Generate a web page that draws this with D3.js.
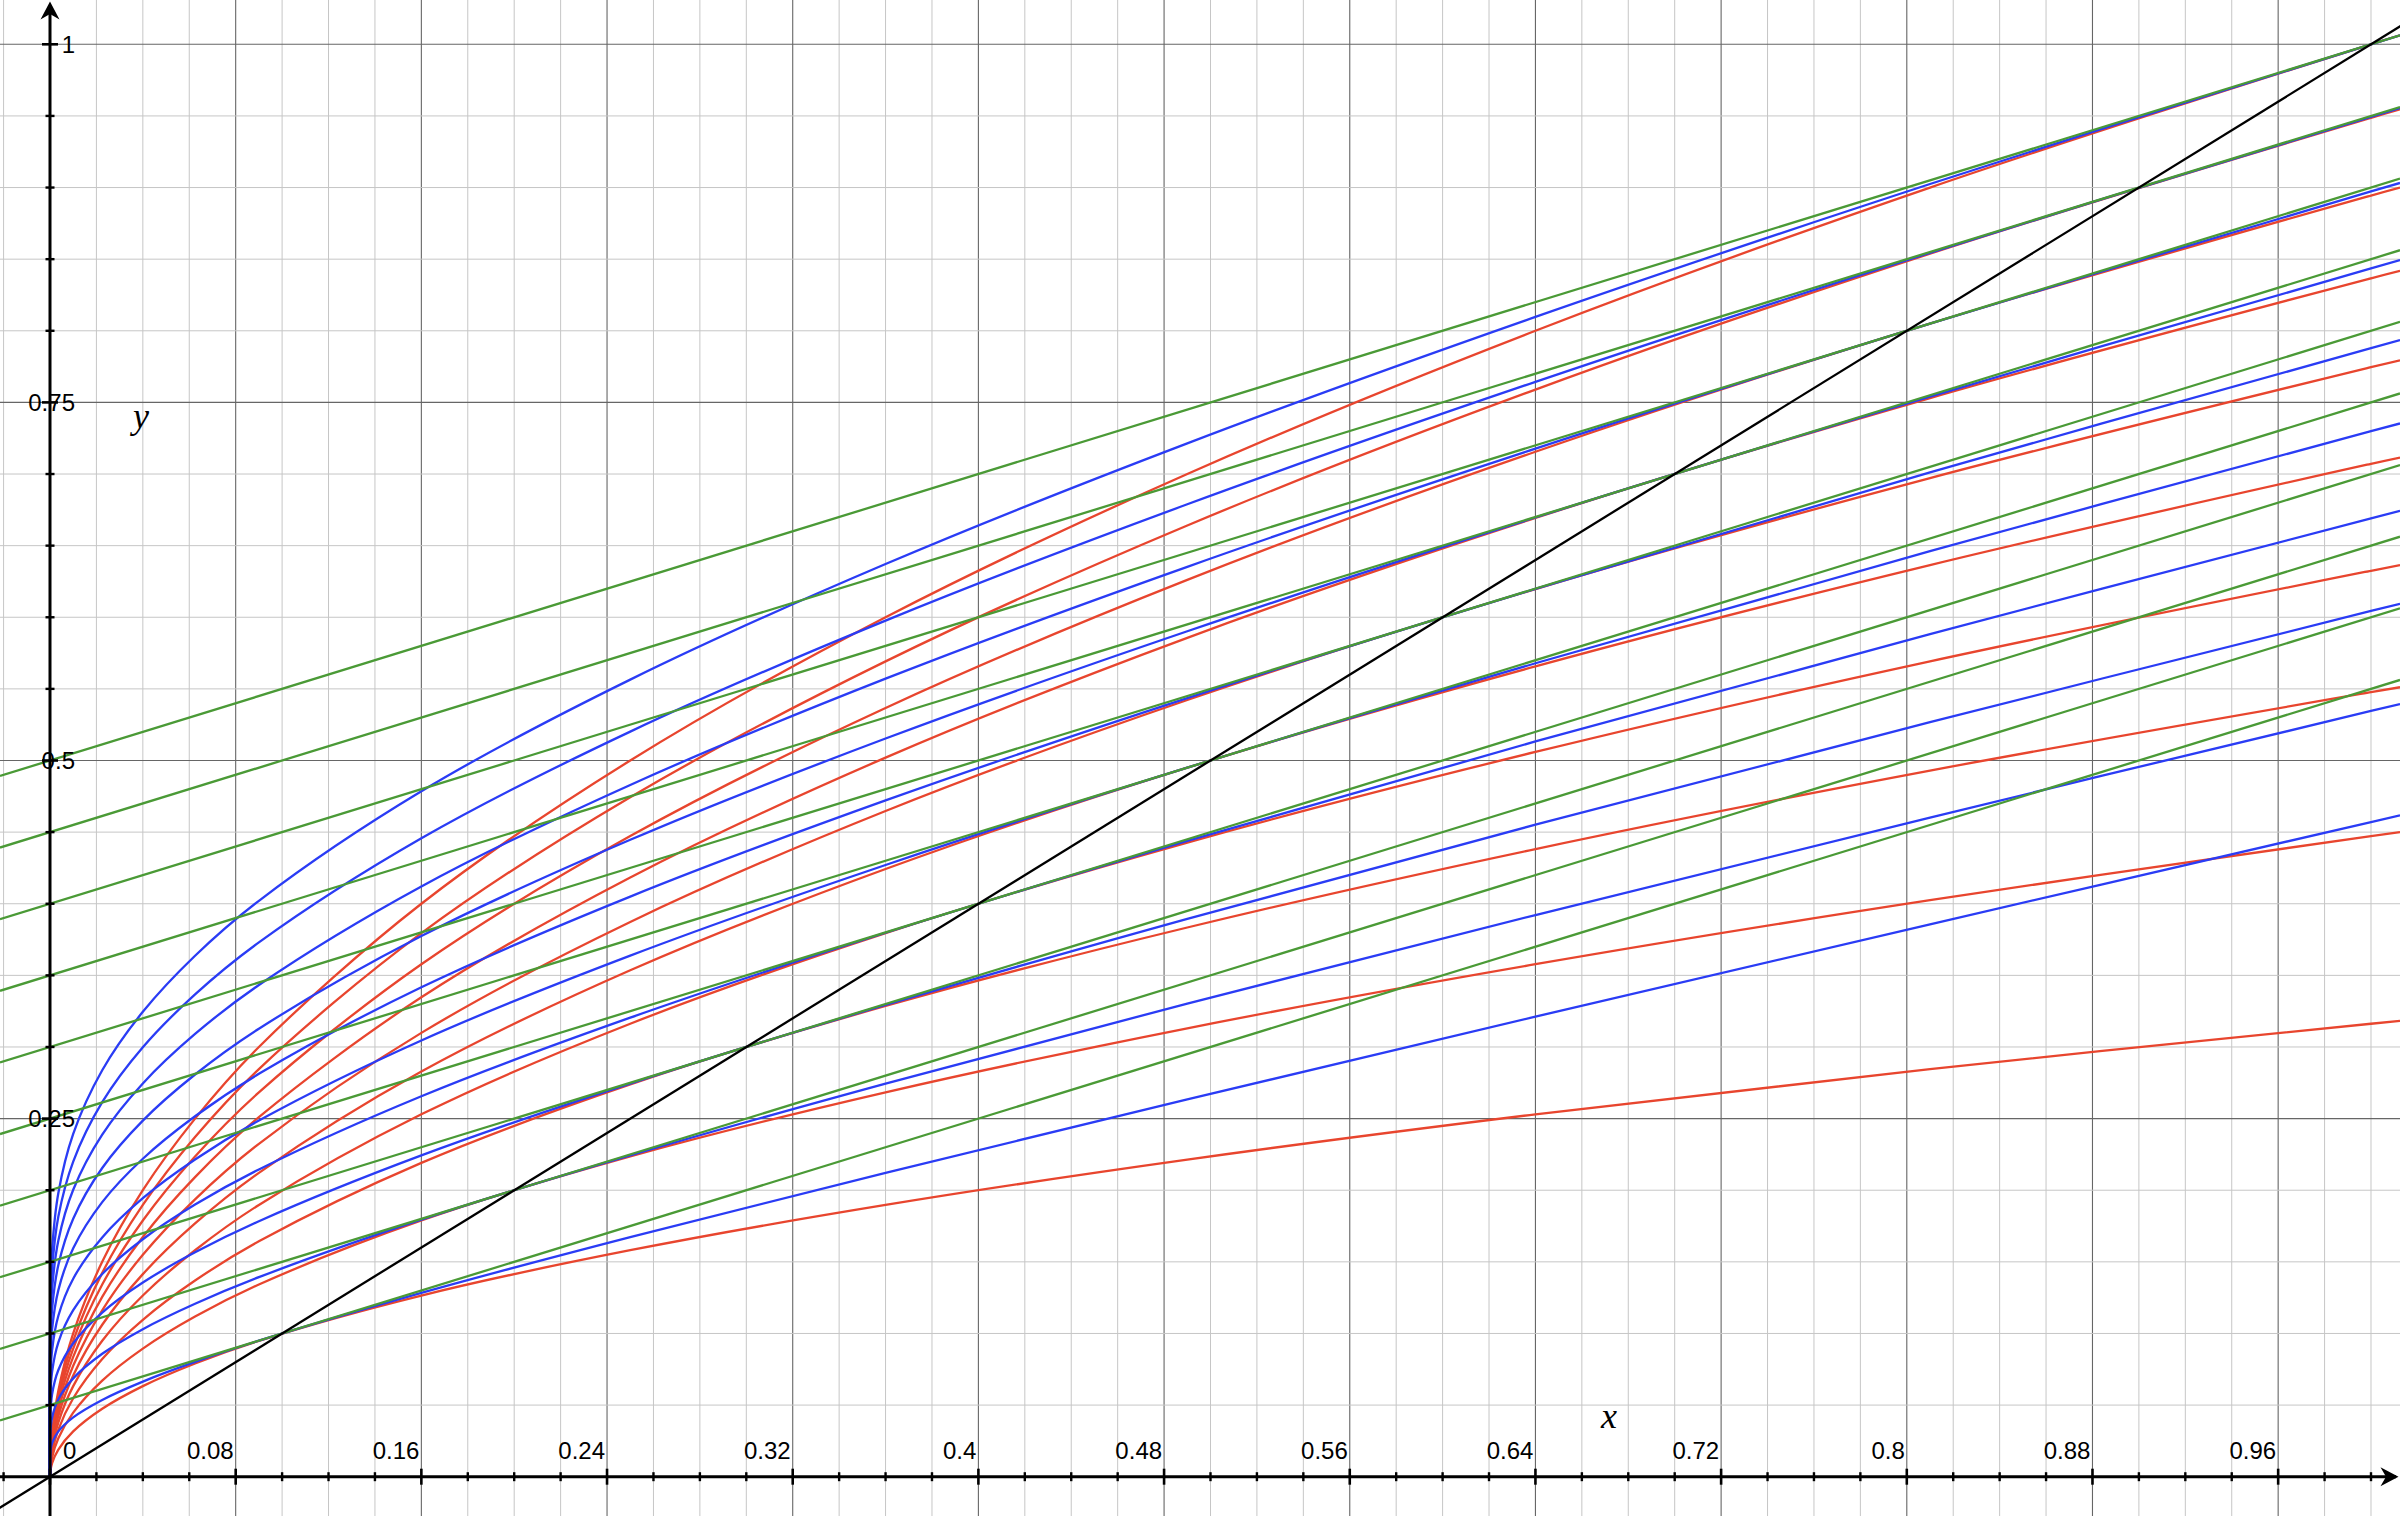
<!DOCTYPE html>
<html>
<head>
<meta charset="utf-8">
<script src="https://cdn.jsdelivr.net/npm/d3@7"></script>
<style>
  html, body { margin: 0; padding: 0; background: #ffffff; }
  svg { display: block; }
</style>
</head>
<body>
<svg id="chart" width="2400" height="1516"></svg>
<script>
// ---------------- data ----------------
const xSamples = [0, 0.0001, 0.0009, 0.0036, 0.01, 0.0225, 0.04, 0.0625, 0.09, 0.16, 0.25, 0.36, 0.49, 0.64, 0.81, 1.0, 1.0125];

const redCurves = [
  [0, 0.00316, 0.00949, 0.01897, 0.03162, 0.04743, 0.06325, 0.07906, 0.09487, 0.12649, 0.15811, 0.18974, 0.22136, 0.25298, 0.2846, 0.31623, 0.3182],
  [0, 0.00447, 0.01342, 0.02683, 0.04472, 0.06708, 0.08944, 0.1118, 0.13416, 0.17889, 0.22361, 0.26833, 0.31305, 0.35777, 0.40249, 0.44721, 0.45],
  [0, 0.00548, 0.01643, 0.03286, 0.05477, 0.08216, 0.10954, 0.13693, 0.16432, 0.21909, 0.27386, 0.32863, 0.38341, 0.43818, 0.49295, 0.54772, 0.55114],
  [0, 0.00632, 0.01897, 0.03795, 0.06325, 0.09487, 0.12649, 0.15811, 0.18974, 0.25298, 0.31623, 0.37947, 0.44272, 0.50596, 0.56921, 0.63246, 0.6364],
  [0, 0.00707, 0.02121, 0.04243, 0.07071, 0.10607, 0.14142, 0.17678, 0.21213, 0.28284, 0.35355, 0.42426, 0.49497, 0.56569, 0.6364, 0.70711, 0.71151],
  [0, 0.00775, 0.02324, 0.04648, 0.07746, 0.11619, 0.15492, 0.19365, 0.23238, 0.30984, 0.3873, 0.46476, 0.54222, 0.61968, 0.69714, 0.7746, 0.77942],
  [0, 0.00837, 0.0251, 0.0502, 0.08367, 0.1255, 0.16733, 0.20917, 0.251, 0.33466, 0.41833, 0.502, 0.58566, 0.66933, 0.75299, 0.83666, 0.84187],
  [0, 0.00894, 0.02683, 0.05367, 0.08944, 0.13416, 0.17889, 0.22361, 0.26833, 0.35777, 0.44721, 0.53666, 0.6261, 0.71554, 0.80498, 0.89443, 0.9],
  [0, 0.00949, 0.02846, 0.05692, 0.09487, 0.1423, 0.18974, 0.23717, 0.2846, 0.37947, 0.47434, 0.56921, 0.66408, 0.75895, 0.85381, 0.94868, 0.95459],
  [0, 0.01, 0.03, 0.06, 0.1, 0.15, 0.2, 0.25, 0.3, 0.4, 0.5, 0.6, 0.7, 0.8, 0.9, 1.0, 1.00623]
];

const blueCurves = [
  [0, 0.01608, 0.02345, 0.03164, 0.04144, 0.05362, 0.06641, 0.08012, 0.09493, 0.12832, 0.16725, 0.21218, 0.26341, 0.32118, 0.38565, 0.45701, 0.46167],
  [0, 0.02899, 0.04122, 0.05405, 0.06863, 0.08581, 0.10301, 0.12074, 0.13928, 0.17943, 0.22432, 0.27447, 0.33031, 0.39213, 0.46016, 0.53459, 0.53945],
  [0, 0.04103, 0.0576, 0.07449, 0.09318, 0.11461, 0.13554, 0.15667, 0.17837, 0.2243, 0.27442, 0.32933, 0.38946, 0.45517, 0.52674, 0.60438, 0.60942],
  [0, 0.05251, 0.07318, 0.09379, 0.11622, 0.14149, 0.16577, 0.18996, 0.2145, 0.26563, 0.32047, 0.37973, 0.44388, 0.51328, 0.58824, 0.669, 0.67424],
  [0, 0.06364, 0.0882, 0.11234, 0.13824, 0.16707, 0.19446, 0.22146, 0.24862, 0.30455, 0.36376, 0.42707, 0.49499, 0.56789, 0.6461, 0.72989, 0.7353],
  [0, 0.07448, 0.10277, 0.13027, 0.15949, 0.1917, 0.22199, 0.25165, 0.28126, 0.34169, 0.405, 0.47211, 0.54359, 0.61984, 0.70117, 0.78788, 0.79347],
  [0, 0.08508, 0.11701, 0.14777, 0.18013, 0.21553, 0.24862, 0.28079, 0.31273, 0.37742, 0.44463, 0.51535, 0.59021, 0.66966, 0.754, 0.84354, 0.8493],
  [0, 0.0955, 0.131, 0.16486, 0.2003, 0.23879, 0.27454, 0.30909, 0.34326, 0.41203, 0.48295, 0.55712, 0.63523, 0.71774, 0.80499, 0.89727, 0.90319],
  [0, 0.10575, 0.14468, 0.18162, 0.22001, 0.26149, 0.2998, 0.33668, 0.37299, 0.44568, 0.52017, 0.59766, 0.67888, 0.76434, 0.8544, 0.94935, 0.95543],
  [0, 0.1158, 0.1582, 0.19811, 0.2394, 0.28377, 0.32454, 0.36368, 0.40204, 0.47852, 0.55645, 0.63714, 0.72138, 0.80969, 0.90246, 1.0, 1.00624]
];

const greenIntercepts = [0.05, 0.10, 0.15, 0.20, 0.25, 0.30, 0.35, 0.40, 0.45, 0.50];
const greenSlope = 0.5;

const diagonalPoints = [[-0.05, -0.05], [1.05, 1.05]];

const xTickValues = [0.08, 0.16, 0.24, 0.32, 0.4, 0.48, 0.56, 0.64, 0.72, 0.8, 0.88, 0.96];
const xTickLabels = ["0.08", "0.16", "0.24", "0.32", "0.4", "0.48", "0.56", "0.64", "0.72", "0.8", "0.88", "0.96"];
const yTickValues = [0.25, 0.5, 0.75, 1];
const yTickLabels = ["0.25", "0.5", "0.75", "1"];

// ---------------- layout ----------------
const W = 2400, H = 1516;
const x = d3.scaleLinear().domain([-0.021542, 1.012495]).range([0, W]);
const y = d3.scaleLinear().domain([-0.027437, 1.03093]).range([H, 0]);

const svg = d3.select("#chart");
svg.append("rect").attr("width", W).attr("height", H).attr("fill", "#ffffff");

const COLORS = { red: "#e8452e", blue: "#2a3cf5", green: "#4a9a36", black: "#000000" };

// ---------------- grid ----------------
const grid = svg.append("g");
const xMinor = d3.range(-1, 51).map(i => ({ v: +(i * 0.02).toFixed(4), major: i % 4 === 0 }));
const yMinor = d3.range(-1, 21).map(i => ({ v: +(i * 0.05).toFixed(4), major: i % 5 === 0 }));

grid.selectAll("line.vx").data(xMinor.filter(d => d.v !== 0)).join("line")
  .attr("x1", d => x(d.v)).attr("x2", d => x(d.v))
  .attr("y1", 0).attr("y2", H)
  .attr("stroke", d => d.major ? "#666666" : "#c6c6c6")
  .attr("stroke-width", d => d.major ? 1.1 : 1);

grid.selectAll("line.hy").data(yMinor.filter(d => d.v !== 0)).join("line")
  .attr("y1", d => y(d.v)).attr("y2", d => y(d.v))
  .attr("x1", 0).attr("x2", W)
  .attr("stroke", d => d.major ? "#666666" : "#c6c6c6")
  .attr("stroke-width", d => d.major ? 1.1 : 1);

// ---------------- curves ----------------
const curveLine = d3.line()
  .x(d => x(d[0])).y(d => y(d[1]))
  .curve(d3.curveCatmullRom.alpha(0.5));
const straight = d3.line().x(d => x(d[0])).y(d => y(d[1]));

const plot = svg.append("g");

plot.selectAll("path.red").data(redCurves).join("path")
  .attr("d", ys => curveLine(ys.map((v, i) => [xSamples[i], v])))
  .attr("fill", "none").attr("stroke", COLORS.red).attr("stroke-width", 2.3);

plot.selectAll("path.blue").data(blueCurves).join("path")
  .attr("d", ys => curveLine(ys.map((v, i) => [xSamples[i], v])))
  .attr("fill", "none").attr("stroke", COLORS.blue).attr("stroke-width", 2.3);

const [xd0, xd1] = x.domain();
plot.selectAll("path.green").data(greenIntercepts).join("path")
  .attr("d", c => straight([[xd0, c + greenSlope * xd0], [xd1, c + greenSlope * xd1]]))
  .attr("fill", "none").attr("stroke", COLORS.green).attr("stroke-width", 2.3);

plot.append("path")
  .attr("d", straight(diagonalPoints))
  .attr("fill", "none").attr("stroke", COLORS.black).attr("stroke-width", 2.3);

// ---------------- axes ----------------
const axes = svg.append("g");
const X0 = x(0), Y0 = y(0);

axes.append("line").attr("x1", 0).attr("x2", W - 4).attr("y1", Y0).attr("y2", Y0)
  .attr("stroke", "#000").attr("stroke-width", 3);
axes.append("line").attr("x1", X0).attr("x2", X0).attr("y1", H).attr("y2", 6)
  .attr("stroke", "#000").attr("stroke-width", 3);

// arrows
axes.append("path")
  .attr("d", `M${X0},1.5 L${X0 + 9.5},19.5 L${X0},14 L${X0 - 9.5},19.5 Z`)
  .attr("fill", "#000");
axes.append("path")
  .attr("d", `M${W - 1.5},${Y0} L${W - 19.5},${Y0 - 9.5} L${W - 14},${Y0} L${W - 19.5},${Y0 + 9.5} Z`)
  .attr("fill", "#000");

// ticks
const xTickAll = xMinor.filter(d => x(d.v) < W - 20);
axes.selectAll("line.xt").data(xTickAll).join("line")
  .attr("x1", d => x(d.v)).attr("x2", d => x(d.v))
  .attr("y1", d => Y0 - (d.major ? 8 : 4.5)).attr("y2", d => Y0 + (d.major ? 8 : 4.5))
  .attr("stroke", "#000").attr("stroke-width", d => d.major ? 2.6 : 2.4);

const yTickAll = yMinor.filter(d => y(d.v) > 22 && d.v > 0);
axes.selectAll("line.yt").data(yTickAll).join("line")
  .attr("y1", d => y(d.v)).attr("y2", d => y(d.v))
  .attr("x1", d => X0 - (d.major ? 8 : 4.5)).attr("x2", d => X0 + (d.major ? 8 : 4.5))
  .attr("stroke", "#000").attr("stroke-width", d => d.major ? 2.6 : 2.4);

// tick labels
const labelFont = "'Liberation Sans', Arial, Helvetica, sans-serif";
axes.selectAll("text.xl").data(xTickValues).join("text")
  .attr("x", d => x(d) - 2).attr("y", Y0 - 18)
  .attr("text-anchor", "end")
  .attr("font-family", labelFont).attr("font-size", 24).attr("fill", "#000")
  .text((d, i) => xTickLabels[i]);

axes.append("text")
  .attr("x", X0 + 13).attr("y", Y0 - 18)
  .attr("text-anchor", "start")
  .attr("font-family", labelFont).attr("font-size", 24).attr("fill", "#000")
  .text("0");

axes.selectAll("text.yl").data(yTickValues).join("text")
  .attr("x", X0 + 25).attr("y", d => y(d))
  .attr("dy", "0.36em")
  .attr("text-anchor", "end")
  .attr("font-family", labelFont).attr("font-size", 24).attr("fill", "#000")
  .text((d, i) => yTickLabels[i]);

// axis titles
const titleFont = "'Liberation Serif', 'Times New Roman', serif";
axes.append("text")
  .attr("x", 1601).attr("y", 1428)
  .attr("font-family", titleFont).attr("font-style", "italic")
  .attr("font-size", 36).attr("fill", "#000")
  .text("x");
axes.append("text")
  .attr("x", 133).attr("y", 428)
  .attr("font-family", titleFont).attr("font-style", "italic")
  .attr("font-size", 36).attr("fill", "#000")
  .text("y");
</script>
</body>
</html>
